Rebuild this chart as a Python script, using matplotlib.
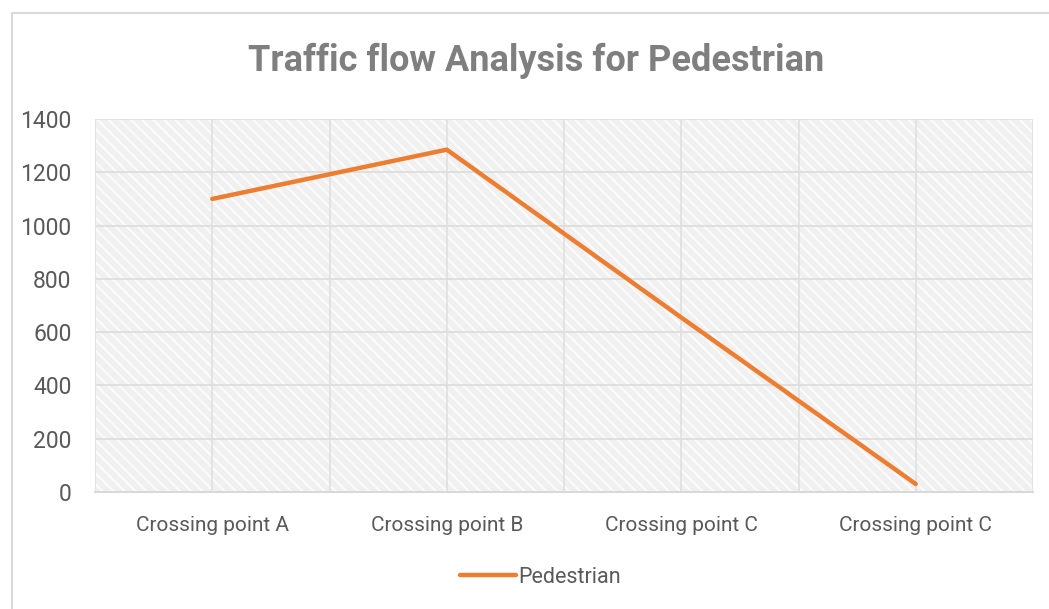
import matplotlib
matplotlib.use("Agg")
import matplotlib.pyplot as plt
from matplotlib.patches import Rectangle

categories = ["Crossing point A", "Crossing point B", "Crossing point C", "Crossing point C"]
pedestrian = [1100, 1285, 655, 30]
y_ticks = [0, 200, 400, 600, 800, 1000, 1200, 1400]

plt.rcParams['font.family'] = ['Liberation Sans Narrow', 'Roboto', 'DejaVu Sans']
plt.rcParams['hatch.linewidth'] = 1.6

fig = plt.figure(figsize=(10.49, 6.09), dpi=100)
# outer chart border
fig.patches.append(Rectangle((12 / 1049, -0.01), 1.02, 1 - 13 / 609 + 0.01, transform=fig.transFigure,
                             fill=False, edgecolor='#d9d9d9', linewidth=1.5))

ax = fig.add_axes([95 / 1049, 1 - 492 / 609, (1033 - 95) / 1049, (492 - 119) / 609])
x = list(range(len(categories)))

ax.set_xlim(-0.5, len(categories) - 0.5)
ax.set_ylim(0, 1400)

# hatched plot-area background
ax.add_patch(Rectangle((-0.5, 0), len(categories), 1400, facecolor='#f0f0f0', edgecolor='#fbfbfb',
                       linewidth=0, hatch='\\\\\\', zorder=0))

for v in y_ticks:
    ax.axhline(v, color='#dedede', linewidth=1.3, zorder=1)
for i in range(2 * len(categories) + 1):
    ax.axvline(-0.5 + i * 0.5, color='#dedede', linewidth=1.1, zorder=1)

ax.plot(x, pedestrian, color='#ed7d31', linewidth=3.2, solid_capstyle='round', zorder=3,
        label='Pedestrian')

for s in ['top', 'right', 'left']:
    ax.spines[s].set_visible(False)
ax.spines['bottom'].set_color('#d9d9d9')
ax.spines['bottom'].set_linewidth(1.5)

ax.set_xticks(x)
ax.set_xticklabels(categories)
ax.set_yticks(y_ticks)
ax.tick_params(axis='x', length=0, labelsize=15, colors='#595959', pad=17)
ax.tick_params(axis='y', length=0, labelsize=16.5, colors='#595959', pad=17)

fig.text(0.511, 0.90, "Traffic flow Analysis for Pedestrian", ha='center', va='center',
         fontsize=26, fontweight='bold', color='#7f7f7f')

fig.legend(loc='center', bbox_to_anchor=(0.515, 0.052), frameon=False, fontsize=15.5,
           labelcolor='#595959', handlelength=2.6, handletextpad=0.1)

fig.savefig("out.png", dpi=100)
